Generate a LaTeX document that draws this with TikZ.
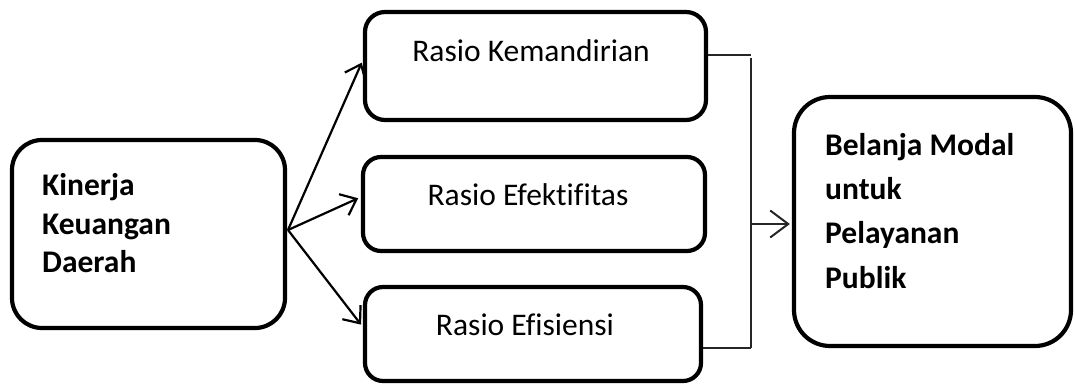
\documentclass[tikz,border=0pt]{standalone}
\usepackage{fontspec}
\setmainfont{Carlito}[Ligatures=NoCommon]
\usetikzlibrary{arrows.meta,calc}
\begin{document}
\begin{tikzpicture}[x=1pt,y=-1pt,
  boxnode/.style={draw=black,line width=4.2pt,inner sep=0pt,fill=white},
  rtext/.style={inner sep=0pt,anchor=base,font=\fontsize{31.5}{38}\selectfont},
  btext/.style={inner sep=0pt,anchor=north west,align=left,font=\bfseries},
  fanarrow/.style={line width=2.2pt,-{Straight Barb[length=14pt,width=23pt]},shorten >=3pt},
  joinline/.style={line width=2pt,draw=black!85},
  mainarrow/.style={line width=2pt,draw=black!85,-{Straight Barb[length=18pt,width=27pt]},shorten >=2pt}]
\useasboundingbox (0,0) rectangle (1075,385);

% boxes
\node[boxnode,rounded corners=30pt,minimum width=273pt,minimum height=188pt] (kin) at (148.5,234) {};
\node[boxnode,rounded corners=20pt,minimum width=341pt,minimum height=108pt] (kem) at (535.5,66) {};
\node[boxnode,rounded corners=18pt,minimum width=342pt,minimum height=94pt] (efk) at (534,204) {};
\node[boxnode,rounded corners=18pt,minimum width=336pt,minimum height=94pt] (efi) at (533,334) {};
\node[boxnode,rounded corners=36pt,minimum width=277pt,minimum height=249pt] (bel) at (932.5,221.5) {};

% texts
\node[btext,font=\bfseries\fontsize{31.5}{38.5}\selectfont] (kint) at (42,173.5) {Kinerja\\Keuangan\\Daerah};
\node[btext,font=\bfseries\fontsize{31.5}{44.3}\selectfont] (belt) at (825,133) {Belanja Modal\\untuk\\Pelayanan\\Publik};
\node[rtext] (kemt) at (531,62) {Rasio Kemandirian};
\node[rtext] (efkt) at (528,205) {Rasio Efektifitas};
\node[rtext] (efit) at (525,335) {Rasio Efisiensi};

% fan arrows
\coordinate (o) at (288,230);
\draw[fanarrow] (o) -- ([yshift=6pt]kem.west);
\draw[fanarrow] (o) -- ([yshift=7pt]efk.west);
\draw[fanarrow] (o) -- ([yshift=7pt]efi.west);

% joining connector
\coordinate (j1) at (751,55);
\coordinate (j2) at (751,348);
\coordinate (j3) at (751,224);
\draw[joinline] (kem.east |- j1) -- (j1);
\draw[joinline] ([yshift=-3pt]j1) -- (j2);
\draw[joinline] (efi.east |- j2) -- (j2);
\draw[mainarrow] (j3) -- (bel.west |- j3);
\end{tikzpicture}
\end{document}
